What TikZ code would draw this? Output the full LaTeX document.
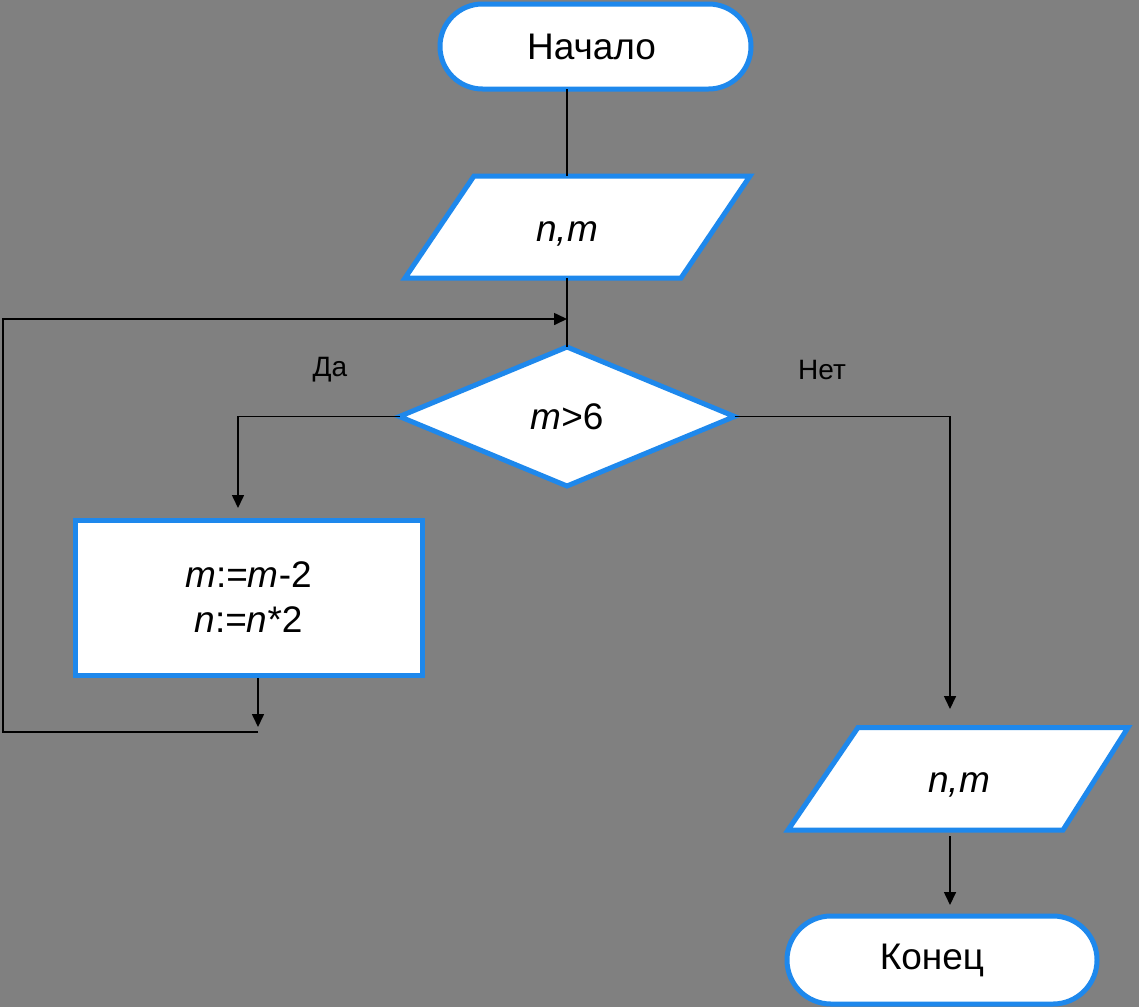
\documentclass[tikz,border=0pt]{standalone}
\usepackage{fontspec}
\setmainfont{Liberation Sans}
\usetikzlibrary{shapes.geometric,shapes.misc,arrows.meta}
\definecolor{bg}{RGB}{128,128,128}
\definecolor{fb}{RGB}{30,136,236}
\begin{document}
\begin{tikzpicture}[x=1pt,y=-1pt,
  conn/.style={line width=1.6pt,black},
  arr/.style={conn,-{Triangle[length=13pt,width=12pt]}},
  blk/.style={draw=fb,line width=5pt,fill=white},
  big/.style={font=\fontsize{37}{45}\selectfont},
  lbl/.style={font=\fontsize{28}{34}\selectfont,inner sep=0pt},
  term/.style={blk,big,rounded rectangle,inner sep=0pt,outer sep=0pt},
  plain/.style={big,inner sep=0pt,outer sep=0pt,minimum width=10pt},
  txt/.style={big,inner sep=0pt}
]
\useasboundingbox (0,0) rectangle (1139,1007);
\fill[bg] (0,0) rectangle (1139,1007);

% start
\node[term,minimum width=311pt,minimum height=85pt,
  label={[txt,xshift=-4pt]center:Начало}] (start) at (595.5,46.5) {};

% input parallelogram
\draw[blk] (474,176) -- (750,176) -- (681,278) -- (405,278) -- cycle;
\node[plain,minimum height=102pt,
  label={[txt,yshift=-7pt]center:{\itshape n,m}}] (p1) at (567,227) {};

% decision
\node[blk,big,diamond,minimum width=335pt,minimum height=139pt,inner sep=0pt,outer sep=0pt] (dec) at (567,416.5) {{\itshape m}>6};

% process box
\node[blk,big,rectangle,minimum width=347pt,minimum height=155pt,align=center,inner sep=0pt,outer sep=0pt] (box) at (248.5,597.5) {{\itshape m}:={\itshape m}-2\\{\itshape n}:={\itshape n}*2};

% output parallelogram
\draw[blk] (858,727.5) -- (1128,727.5) -- (1063,830) -- (788,830) -- cycle;
\node[plain,minimum height=102.5pt,
  label={[txt,yshift=-6pt]center:{\itshape n,m}}] (p2) at (959,778.5) {};

% end
\node[term,minimum width=310pt,minimum height=88pt,
  label={[txt,xshift=-10pt]center:Конец}] (end) at (942,960) {};

% labels
\node[lbl] (yes) at (330,370) {Да};
\node[lbl] (no) at (822,370) {Нет};

% coordinates
\coordinate (col) at (567,0);
\coordinate (merge) at (567,319);
\coordinate (boxin) at (238,508);
\coordinate (boxout) at (258,678);
\coordinate (jtip) at (258,727);
\coordinate (jn) at (258,732);
\coordinate (jl) at (3,732);
\coordinate (p2in) at (950,709);
\coordinate (p2out) at (950,836);
\coordinate (endin) at (950,905);

% connectors
\draw[conn] (start.south -| col) -- (p1.north -| col);
\draw[conn] (p1.south) -- (dec.north);
\draw[arr] (dec.west) -| (boxin);
\draw[arr] (boxout) -- (jtip);
\draw[arr] (jn) -- (jl) |- (merge);
\draw[arr] (dec.east) -| (p2in);
\draw[arr] (p2out) -- (endin);
\end{tikzpicture}
\end{document}
